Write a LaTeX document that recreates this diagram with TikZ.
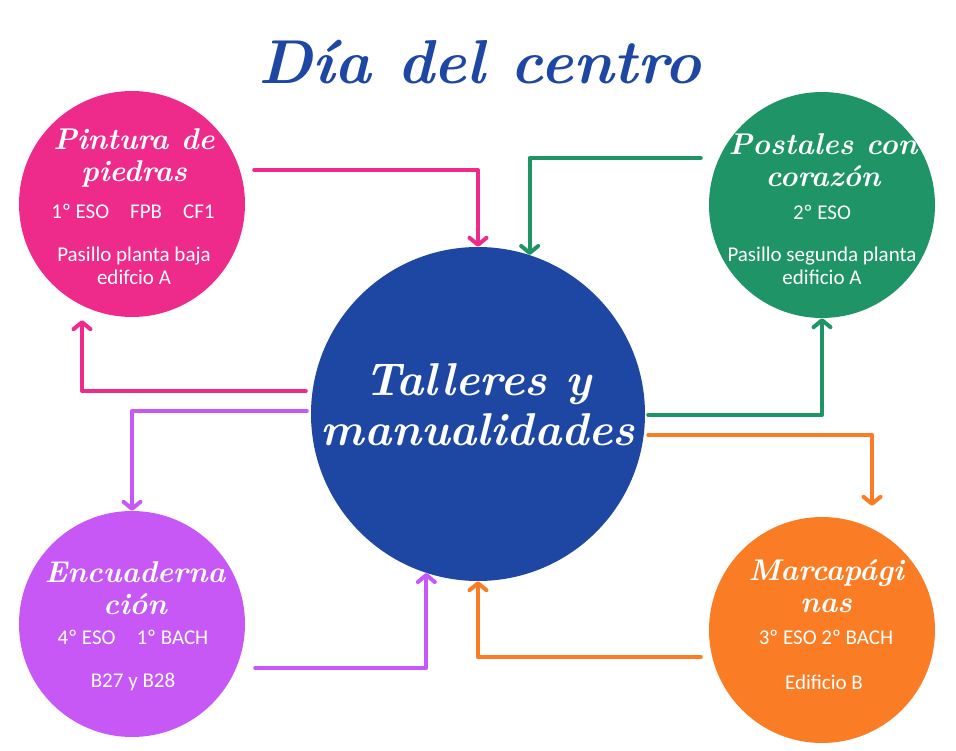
\documentclass[tikz,border=0pt]{standalone}
\usepackage{fontspec}
\newfontfamily\hand{Carlito}
\usetikzlibrary{arrows.meta}
\definecolor{rosa}{HTML}{EE2A8B}
\definecolor{verde}{HTML}{1E9467}
\definecolor{azul}{HTML}{1E47A3}
\definecolor{lila}{HTML}{C758F5}
\definecolor{naranja}{HTML}{FA7D25}

\begin{document}
\begin{tikzpicture}[x=1pt,y=-1pt,
    bola/.style={circle,inner sep=0pt,minimum size=226pt},
    titulo/.style={text=white,font=\fontsize{30}{32}\selectfont\bfseries\itshape,align=center},
    dato/.style={text=white,font=\hand\fontsize{21}{23}\selectfont,align=center},
    flecha/.style={line width=4pt,-{Straight Barb[length=7pt,width=17pt,round]},line cap=round,line join=round}]
\useasboundingbox (0,0) rectangle (956,751);
\node[text=azul,font=\fontsize{62}{64}\selectfont\bfseries\itshape] (dia) at (480,62) {Día del centro};
\node[bola,fill=azul,minimum size=334pt] (centro) at (478,414) {};
\foreach \nombre/\x/\y/\color in {piedras/132/204/rosa,postales/822/205/verde,encuad/132/624/lila,marca/822/630/naranja}{
  \node[bola,fill=\color] (\nombre) at (\x,\y) {};
}
\node[titulo,font=\fontsize{46}{50}\selectfont\bfseries\itshape] (talleres) at (478,405) {Talleres y\\manualidades};

\node[titulo] (t1) at (134,158) {Pintura de\\piedras};
\node[dato] (c1) at (133,211) {1º ESO\quad FPB\quad CF1};
\node[dato] (l1) at (134,266) {Pasillo planta baja\\edifcio A};

\node[titulo] (t2) at (823,160) {Postales con\\corazón};
\node[dato] (c2) at (822,212) {2º ESO};
\node[dato] (l2) at (822,266) {Pasillo segunda planta\\edificio A};

\node[titulo] (t3) at (135,588) {Encuaderna\\ción};
\node[dato] (c3) at (133,637) {4º ESO\quad 1º BACH};
\node[dato] (l3) at (133,682) {B27 y B28};

\node[titulo] (t4) at (826,586) {Marcapági\\nas};
\node[dato] (c4) at (826,637) {3º ESO 2º BACH};
\node[dato] (l4) at (824,682) {Edificio B};

\draw[flecha,rosa] ([xshift=9pt]piedras.east |- 0,170) -| (centro.north);
\draw[flecha,verde] ([xshift=-8pt]postales.west |- 0,158) -| (centro.72);
\draw[flecha,rosa] ([xshift=-5pt]centro.west |- 0,391) -| ([yshift=-3pt]piedras.south -| 82,0);
\draw[flecha,lila] ([xshift=-4pt]centro.west |- 0,411) -| (encuad.north);
\draw[flecha,verde] ([xshift=3pt]centro.east |- 0,415) -| (postales.south);
\draw[flecha,naranja] ([xshift=3pt]centro.east |- 0,435) -| ([yshift=11pt]marca.north -| 872,0);
\draw[flecha,lila] ([xshift=10pt]encuad.east |- 0,668) -| (centro.252);
\draw[flecha,naranja] ([xshift=-8pt]marca.west |- 0,657) -| (centro.south);
\end{tikzpicture}
\end{document}
